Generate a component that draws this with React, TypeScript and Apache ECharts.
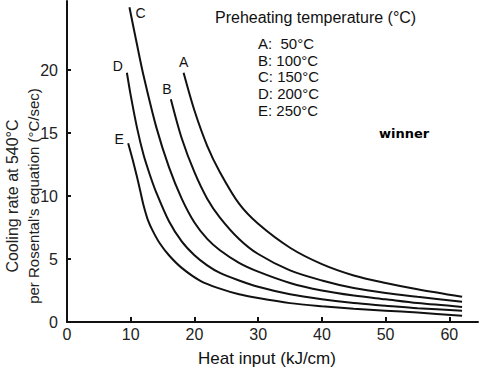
import React, { useEffect, useRef } from "react";
import * as echarts from "echarts";

const curveNames = ["A", "B", "C", "D", "E"];

const curveA: [number, number][] = [
  [18.3, 19.8], [20, 16.8], [22, 14.0], [24, 11.9], [27, 9.4], [30, 7.8],
  [35, 5.9], [40, 4.6], [45, 3.7], [50, 3.1], [55, 2.6], [62, 2.0],
];
const curveB: [number, number][] = [
  [16.3, 17.7], [18, 14.6], [20, 11.9], [22, 9.8], [24, 8.3], [27, 6.6],
  [30, 5.4], [35, 4.1], [40, 3.3], [45, 2.7], [50, 2.3], [55, 2.0], [62, 1.6],
];
const curveC: [number, number][] = [
  [9.8, 25.0], [11, 22.0], [12, 19.6], [14, 15.5], [16, 12.3], [18, 9.8],
  [20, 7.9], [22, 6.6], [24, 5.7], [27, 4.7], [30, 4.0], [35, 3.1],
  [40, 2.5], [45, 2.1], [50, 1.8], [55, 1.5], [62, 1.2],
];
const curveD: [number, number][] = [
  [9.4, 19.8], [10, 18.0], [11, 15.4], [12, 13.3], [13, 11.7], [14, 10.3],
  [16, 8.0], [18, 6.4], [20, 5.3], [22, 4.5], [24, 3.9], [27, 3.3],
  [30, 2.8], [35, 2.2], [40, 1.8], [45, 1.5], [50, 1.3], [55, 1.1], [62, 0.9],
];
const curveE: [number, number][] = [
  [9.6, 14.2], [10.3, 12.9], [11, 11.5], [11.5, 10.4], [12, 9.3], [12.7, 8.1],
  [13.5, 7.2], [14.5, 6.3], [16, 5.3], [18, 4.3], [21, 3.25], [24, 2.65],
  [27, 2.2], [30, 1.9], [35, 1.5], [40, 1.25], [45, 1.05], [50, 0.9], [55, 0.75], [62, 0.5],
];

const labelOffsets: [number, number][] = [
  [0, -11], [-4, -10], [11, 6], [-9, -7], [-9, -4],
];

const xTicks = [10, 20, 30, 40, 50, 60];
const xLabels = [0, 10, 20, 30, 40, 50, 60];
const yTicks = [0, 5, 10, 15, 20];

const legendTitle = "Preheating temperature (°C)";
const legendLines = ["A:  50°C", "B: 100°C", "C: 150°C", "D: 200°C", "E: 250°C"];

export default function App() {
  const ref = useRef<HTMLDivElement>(null);
  useEffect(() => {
    if (!ref.current) return;
    const chart = echarts.init(ref.current, null, { renderer: "svg" });
    const curves = [curveA, curveB, curveC, curveD, curveE];
    const font = "Liberation Sans, Arial, sans-serif";
    chart.setOption({
      animation: false,
      backgroundColor: "#ffffff",
      grid: { left: 67, top: 1, width: 411, height: 321 },
      xAxis: {
        type: "value",
        min: 0,
        max: 64.5,
        axisLine: { show: true, lineStyle: { color: "#111", width: 2 } },
        axisTick: { show: true, inside: true, length: 5, customValues: xTicks, lineStyle: { color: "#111", width: 2 } },
        axisLabel: { customValues: xLabels, color: "#222", fontSize: 16, fontFamily: font, margin: 4 },
        splitLine: { show: false },
      },
      yAxis: {
        type: "value",
        min: 0,
        max: 25.5,
        axisLine: { show: true, lineStyle: { color: "#111", width: 2 } },
        axisTick: { show: true, inside: true, length: 4, customValues: yTicks, lineStyle: { color: "#111", width: 2 } },
        axisLabel: { customValues: yTicks, color: "#222", fontSize: 16, fontFamily: font, margin: 9 },
        splitLine: { show: false },
      },
      series: curves.map((c, i) => ({
        type: "line",
        name: curveNames[i],
        smooth: 0.3,
        showSymbol: true,
        symbol: "circle",
        symbolSize: 0,
        lineStyle: { color: "#111", width: 2 },
        itemStyle: { color: "#111" },
        data: c.map((p, j) =>
          j === 0
            ? {
                value: p,
                label: {
                  show: true,
                  formatter: curveNames[i],
                  position: "inside",
                  offset: labelOffsets[i],
                  color: "#111",
                  fontSize: 14,
                  fontFamily: font,
                },
              }
            : { value: p }
        ),
      })),
      graphic: [
        {
          type: "text",
          left: 215,
          top: 9,
          style: { text: legendTitle, fontSize: 16, fontFamily: font, fill: "#111" },
        },
        {
          type: "text",
          left: 258,
          top: 35,
          style: {
            text: legendLines.join("\n"),
            fontSize: 15,
            lineHeight: 16.7,
            fontFamily: font,
            fill: "#111",
          },
        },
        {
          type: "text",
          left: 379,
          top: 127,
          style: { text: "winner", fontSize: 13, fontWeight: "bold", fontFamily: "DejaVu Sans, sans-serif", fill: "#000" },
        },
        {
          type: "text",
          left: 198,
          top: 350,
          style: { text: "Heat input (kJ/cm)", fontSize: 17, fontFamily: font, fill: "#111" },
        },
        {
          type: "text",
          x: 12,
          y: 196,
          rotation: Math.PI / 2,
          style: {
            text: "Cooling rate at 540°C",
            fontSize: 16,
            fontFamily: font,
            fill: "#222",
            align: "center",
            verticalAlign: "middle",
          },
        },
        {
          type: "text",
          x: 33,
          y: 196,
          rotation: Math.PI / 2,
          style: {
            text: "per Rosental's equation (°C/sec)",
            fontSize: 15,
            fontFamily: font,
            fill: "#222",
            align: "center",
            verticalAlign: "middle",
          },
        },
      ],
    });
    return () => chart.dispose();
  }, []);
  return <div ref={ref} style={{ width: 482, height: 373, position: "absolute", left: 0, top: 0 }} />;
}
